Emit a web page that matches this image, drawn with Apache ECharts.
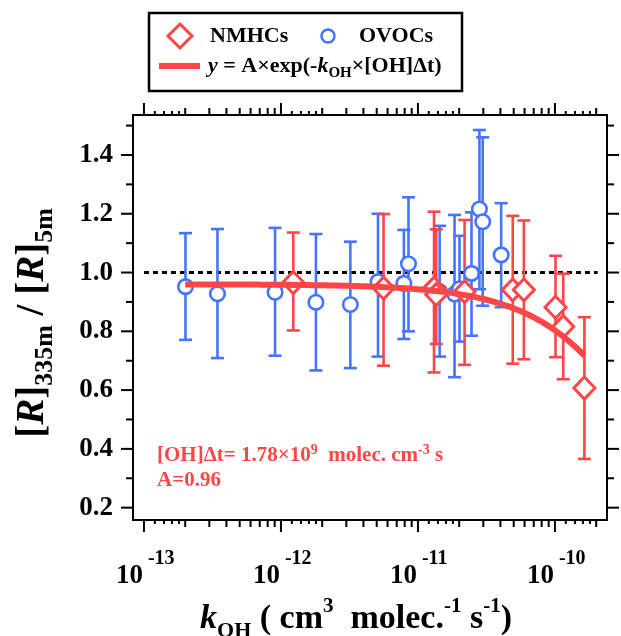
<!DOCTYPE html>
<html>
<head>
<meta charset="utf-8">
<script src="https://cdn.jsdelivr.net/npm/echarts@6/dist/echarts.min.js"></script>
<style>
  html, body { margin: 0; padding: 0; background: #fff; }
  #chart { width: 621px; height: 636px; }
</style>
</head>
<body>
<div id="chart"></div>
<script>
// NMHC species: OH rate constant (cm3 molec-1 s-1), ratio and error-bar limits
const nmhcK     = [1.23e-12, 5.61e-12, 1.31e-11, 1.36e-11, 2.19e-11, 4.92e-11, 5.93e-11, 1.01e-10, 1.15e-10, 1.64e-10];
const nmhcRatio = [0.966, 0.947, 0.947, 0.925, 0.935, 0.941, 0.941, 0.882, 0.816, 0.607];
const nmhcLow   = [0.803, 0.683, 0.660, 0.757, 0.686, 0.690, 0.705, 0.712, 0.637, 0.366];
const nmhcHigh  = [1.136, 1.199, 1.207, 1.147, 1.179, 1.193, 1.177, 1.057, 0.996, 0.848];

// OVOC species
const ovocK     = [2.01e-13, 3.44e-13, 9.06e-13, 1.80e-12, 3.21e-12, 5.11e-12, 7.89e-12, 8.53e-12,
                   1.44e-11, 1.85e-11, 2.01e-11, 2.46e-11, 2.81e-11, 2.97e-11, 4.05e-11];
const ovocRatio = [0.952, 0.928, 0.933, 0.899, 0.891, 0.969, 0.963, 1.030,
                   0.935, 0.927, 0.945, 0.997, 1.216, 1.173, 1.060];
const ovocLow   = [0.771, 0.709, 0.717, 0.667, 0.675, 0.714, 0.774, 0.800,
                   0.714, 0.644, 0.765, 0.785, 0.943, 0.887, 0.882];
const ovocHigh  = [1.134, 1.148, 1.152, 1.131, 1.105, 1.200, 1.145, 1.256,
                   1.159, 1.196, 1.125, 1.205, 1.485, 1.460, 1.236];

// Exponential decay fit: y = A * exp(-kOH * [OH]dt)
const FIT_A = 0.96;
const OH_EXPOSURE = 1.78e9;
const FIT_K_RANGE = [2.0e-13, 1.64e-10];

// Unity reference line
const REFERENCE_RATIO = 1.0;
const REFERENCE_K_RANGE = [1e-13, 2.05e-10];

// Axes
const X_RANGE = [Math.pow(10, -13.08), Math.pow(10, -9.62)];
const Y_RANGE = [0.158, 1.536];
const xDecades = [-13, -12, -11, -10];
const xSubSteps = [2, 3, 4, 5, 6, 7, 8, 9];
const xFineSteps = [1.2, 1.4, 1.6, 1.8];
const yMajorTicks = [0.2, 0.4, 0.6, 0.8, 1.0, 1.2, 1.4];
const yMinorTicks = [0.3, 0.5, 0.7, 0.9, 1.1, 1.3, 1.5];

const RED = '#ff4646';
const BLUE = '#4574ff';
const FONT = '"Liberation Serif", "Times New Roman", serif';

// ---- derived series data ----
const zip = (...cols) => cols[0].map((_, i) => cols.map(c => c[i]));
const nmhcPoints = zip(nmhcK, nmhcRatio);
const nmhcBars = zip(nmhcK, nmhcLow, nmhcHigh);
const ovocPoints = zip(ovocK, ovocRatio);
const ovocBars = zip(ovocK, ovocLow, ovocHigh);

const fitData = [];
(function () {
  const l0 = Math.log10(FIT_K_RANGE[0]), l1 = Math.log10(FIT_K_RANGE[1]);
  const n = 100;
  for (let i = 0; i <= n; i++) {
    const k = Math.pow(10, l0 + (l1 - l0) * i / n);
    fitData.push([k, FIT_A * Math.exp(-k * OH_EXPOSURE)]);
  }
})();

// tick kinds: 0 = decade, 1 = integer multiple, 2 = fine step
const xTickData = [];
xDecades.forEach(d => {
  const base = Math.pow(10, d);
  xTickData.push([base, Y_RANGE[0], 0]);
  xFineSteps.forEach(m => xTickData.push([m * base, Y_RANGE[0], 2]));
  xSubSteps.forEach(m => xTickData.push([m * base, Y_RANGE[0], 1]));
});
const xTicksInRange = xTickData.filter(t => t[0] >= X_RANGE[0] && t[0] <= X_RANGE[1]);
const xLabelData = xDecades.map(d => [Math.pow(10, d), Y_RANGE[0], d]);
const yTickData = yMajorTicks.map(v => [X_RANGE[0], v, 0])
  .concat(yMinorTicks.map(v => [X_RANGE[0], v, 1]));
const yLabelData = yMajorTicks.map(v => [X_RANGE[0], v]);

// ---- renderers ----
function renderXTicks(params, api) {
  const cs = params.coordSys;
  const x = api.coord([api.value(0), Y_RANGE[0]])[0];
  const len = [12, 7, 4][api.value(2)];
  const style = { stroke: '#000', lineWidth: 2 };
  const bottom = cs.y + cs.height, top = cs.y;
  return {
    type: 'group',
    children: [
      { type: 'line', shape: { x1: x, y1: bottom, x2: x, y2: bottom + len }, style },
      { type: 'line', shape: { x1: x, y1: top, x2: x, y2: top - len }, style }
    ]
  };
}

function renderYTicks(params, api) {
  const cs = params.coordSys;
  const y = api.coord([X_RANGE[0], api.value(1)])[1];
  const len = [12, 7][api.value(2)];
  const style = { stroke: '#000', lineWidth: 2 };
  const left = cs.x, right = cs.x + cs.width;
  return {
    type: 'group',
    children: [
      { type: 'line', shape: { x1: left, y1: y, x2: left - len, y2: y }, style },
      { type: 'line', shape: { x1: right, y1: y, x2: right + len, y2: y }, style }
    ]
  };
}

function renderXLabels(params, api) {
  const cs = params.coordSys;
  const x = api.coord([api.value(0), Y_RANGE[0]])[0];
  const base = cs.y + cs.height;
  return {
    type: 'group',
    children: [
      { type: 'text', style: { text: '10', x: x - 1, y: base + 56, textAlign: 'right', textVerticalAlign: 'middle',
          font: 'bold 27px ' + FONT, fill: '#000' } },
      { type: 'text', style: { text: String(api.value(2)), x: x + 4, y: base + 39, textAlign: 'left', textVerticalAlign: 'middle',
          font: 'bold 20px ' + FONT, fill: '#000' } }
    ]
  };
}

function renderYLabels(params, api) {
  const cs = params.coordSys;
  const v = api.value(1);
  const y = api.coord([X_RANGE[0], v])[1];
  return {
    type: 'text',
    style: { text: v.toFixed(1), x: cs.x - 20, y: y, textAlign: 'right', textVerticalAlign: 'middle',
      font: 'bold 27px ' + FONT, fill: '#000' }
  };
}

function errorBarRenderer(color) {
  return function (params, api) {
    const hi = api.coord([api.value(0), api.value(2)]);
    const lo = api.coord([api.value(0), api.value(1)]);
    const half = 6.5;
    const style = { stroke: color, lineWidth: 2.6, fill: null };
    return {
      type: 'group',
      children: [
        { type: 'line', shape: { x1: hi[0], y1: hi[1], x2: lo[0], y2: lo[1] }, style },
        { type: 'line', shape: { x1: hi[0] - half, y1: hi[1], x2: hi[0] + half, y2: hi[1] }, style },
        { type: 'line', shape: { x1: lo[0] - half, y1: lo[1], x2: lo[0] + half, y2: lo[1] }, style }
      ]
    };
  };
}

const chart = echarts.init(document.getElementById('chart'), null, { renderer: 'canvas' });

const option = {
  animation: false,
  backgroundColor: '#fff',
  grid: { left: 133, right: 14, top: 115, bottom: 116, show: true, borderColor: '#000', borderWidth: 2,
          backgroundColor: 'transparent' },
  xAxis: {
    type: 'log', logBase: 10, min: X_RANGE[0], max: X_RANGE[1],
    axisLine: { show: false }, axisTick: { show: false }, axisLabel: { show: false }, splitLine: { show: false }
  },
  yAxis: {
    type: 'value', min: Y_RANGE[0], max: Y_RANGE[1],
    axisLine: { show: false }, axisTick: { show: false }, axisLabel: { show: false }, splitLine: { show: false }
  },
  series: [
    { type: 'custom', name: 'xticks', data: xTicksInRange, renderItem: renderXTicks, silent: true, clip: false, z: 1 },
    { type: 'custom', name: 'yticks', data: yTickData, renderItem: renderYTicks, silent: true, clip: false, z: 1 },
    { type: 'custom', name: 'xlabels', data: xLabelData, renderItem: renderXLabels, silent: true, clip: false, z: 1 },
    { type: 'custom', name: 'ylabels', data: yLabelData, renderItem: renderYLabels, silent: true, clip: false, z: 1 },
    {
      type: 'line', name: 'unity', silent: true, z: 2, symbol: 'none',
      data: [[REFERENCE_K_RANGE[0], REFERENCE_RATIO], [REFERENCE_K_RANGE[1], REFERENCE_RATIO]],
      lineStyle: { color: '#000', width: 3, type: [5, 4], cap: 'butt' }
    },
    { type: 'custom', name: 'OVOC error', data: ovocBars, renderItem: errorBarRenderer(BLUE), silent: true, z: 3 },
    { type: 'custom', name: 'NMHC error', data: nmhcBars, renderItem: errorBarRenderer(RED), silent: true, z: 4 },
    {
      type: 'scatter', name: 'OVOCs', data: ovocPoints, symbol: 'circle', symbolSize: 14.5, z: 5,
      itemStyle: { color: '#fff', borderColor: BLUE, borderWidth: 2.6, opacity: 1 }, silent: true
    },
    {
      type: 'scatter', name: 'NMHCs', data: nmhcPoints, symbol: 'diamond', symbolSize: [21, 22], z: 6,
      itemStyle: { color: '#fff', borderColor: RED, borderWidth: 3, opacity: 1 }, silent: true
    },
    {
      type: 'line', name: 'fit', data: fitData, symbol: 'none', silent: true, z: 7,
      lineStyle: { color: RED, width: 6 }
    }
  ],
  graphic: [
    // legend box
    { type: 'rect', shape: { x: 149, y: 13, width: 313, height: 78 },
      style: { fill: '#fff', stroke: '#000', lineWidth: 2.5 }, z: 10 },
    { type: 'polygon', shape: { points: [[180, 24], [192, 36], [180, 48], [168, 36]] },
      style: { fill: '#fff', stroke: RED, lineWidth: 3 }, z: 11 },
    { type: 'text', style: { text: 'NMHCs', x: 210, y: 36, textAlign: 'left', textVerticalAlign: 'middle',
        font: 'bold 22px ' + FONT, fill: '#000' }, z: 11 },
    { type: 'circle', shape: { cx: 328, cy: 36, r: 6.5 },
      style: { fill: '#fff', stroke: BLUE, lineWidth: 2.5 }, z: 11 },
    { type: 'text', style: { text: 'OVOCs', x: 359, y: 36, textAlign: 'left', textVerticalAlign: 'middle',
        font: 'bold 22px ' + FONT, fill: '#000' }, z: 11 },
    { type: 'line', shape: { x1: 159, y1: 66, x2: 200, y2: 66 },
      style: { stroke: RED, lineWidth: 6 }, z: 11 },
    { type: 'text', z: 11, x: 208, y: 66,
      style: {
        text: '{i|y}{n| = A×exp(-}{i|k}{sub|OH}{n|×[OH]Δt)}',
        textAlign: 'left', textVerticalAlign: 'middle', fill: '#000',
        rich: {
          n: { font: 'bold 22px ' + FONT, lineHeight: 30, verticalAlign: 'middle', fill: '#000' },
          i: { font: 'italic bold 22px ' + FONT, lineHeight: 30, verticalAlign: 'middle', fill: '#000' },
          sub: { font: 'bold 15px ' + FONT, lineHeight: 16, verticalAlign: 'bottom', fill: '#000' }
        }
      } },
    // fit annotation
    { type: 'text', z: 11, x: 157, y: 456,
      style: {
        text: '{n|[OH]Δt= 1.78×10}{sup|9}{n|  molec. cm}{sup|-3}{n| s}',
        textAlign: 'left', textVerticalAlign: 'middle', fill: RED,
        rich: {
          n: { font: 'bold 21px ' + FONT, lineHeight: 26, verticalAlign: 'middle', fill: RED },
          sup: { font: 'bold 14px ' + FONT, lineHeight: 16, verticalAlign: 'top', fill: RED }
        }
      } },
    { type: 'text', z: 11, style: { text: 'A=0.96', x: 157, y: 481, textAlign: 'left', textVerticalAlign: 'middle',
        font: 'bold 21px ' + FONT, fill: RED } },
    // axis titles
    { type: 'text', z: 11, x: 356, y: 619,
      style: {
        text: '{i|k}{sub|OH}{n| ( cm}{sup|3}{n|  molec.}{sup|-1}{n| s}{sup|-1}{n|)}',
        textAlign: 'center', textVerticalAlign: 'middle', fill: '#000',
        rich: {
          n: { font: 'bold 34px ' + FONT, lineHeight: 46, verticalAlign: 'middle', fill: '#000' },
          i: { font: 'italic bold 34px ' + FONT, lineHeight: 46, verticalAlign: 'middle', fill: '#000' },
          sub: { font: 'bold 22px ' + FONT, lineHeight: 24, verticalAlign: 'bottom', fill: '#000' },
          sup: { font: 'bold 21px ' + FONT, lineHeight: 18, verticalAlign: 'top', fill: '#000' }
        }
      } },
    { type: 'text', z: 11, x: 33, y: 323, rotation: Math.PI / 2,
      style: {
        text: '{n|[}{i|R}{n|]}{sub|335m}{n| / [}{i|R}{n|]}{sub|5m}',
        textAlign: 'center', textVerticalAlign: 'middle', fill: '#000',
        rich: {
          n: { font: 'bold 39px ' + FONT, lineHeight: 50, verticalAlign: 'middle', fill: '#000' },
          i: { font: 'italic bold 39px ' + FONT, lineHeight: 50, verticalAlign: 'middle', fill: '#000' },
          sub: { font: 'bold 26px ' + FONT, lineHeight: 28, verticalAlign: 'bottom', fill: '#000' }
        }
      } }
  ]
};

chart.setOption(option);
</script>
</body>
</html>
